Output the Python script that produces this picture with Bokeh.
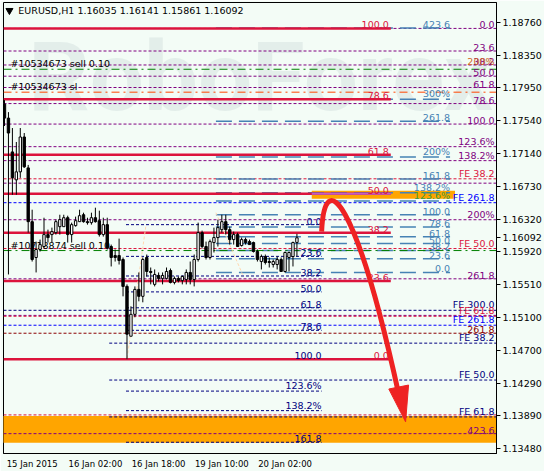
from bokeh.plotting import figure
from bokeh.models import ColumnDataSource, Range1d, FixedTicker, NumeralTickFormatter
from bokeh.core.properties import value
from bokeh.embed import file_html
from bokeh.resources import INLINE

# ---------------- data: EURUSD H1 candles (bar index 0 = 15 Jan 2015) ----------------
opens = [1.17748, 1.17575, 1.17156, 1.16810, 1.16909, 1.17341, 1.16958, 1.16292, 1.15848, 1.15947,
         1.15984, 1.16132, 1.16132, 1.16156, 1.16230, 1.16230, 1.16341, 1.16132, 1.16243, 1.16292,
         1.16378, 1.16292, 1.16280, 1.16341, 1.16304, 1.16132, 1.16255, 1.15984, 1.15872, 1.15872,
         1.15823, 1.15490, 1.14873, 1.15144, 1.15453, 1.15367, 1.15848, 1.15675, 1.15515, 1.15626,
         1.15589, 1.15589, 1.15687, 1.15539, 1.15589, 1.15564, 1.15576, 1.15663, 1.15576, 1.15823,
         1.16156, 1.15984, 1.15848, 1.16033, 1.16095, 1.16193, 1.16292, 1.16193, 1.16070, 1.16132,
         1.15996, 1.16070, 1.16045, 1.16033, 1.15922, 1.15798, 1.15860, 1.15798, 1.15761, 1.15761,
         1.15823, 1.15675, 1.15848, 1.15860, 1.16035]
highs = [1.17798, 1.17649, 1.17452, 1.17279, 1.17452, 1.17390, 1.16995, 1.16440, 1.16045, 1.16070,
         1.16341, 1.16193, 1.16218, 1.16317, 1.16378, 1.16378, 1.16366, 1.16280, 1.16354, 1.16440,
         1.16403, 1.16341, 1.16403, 1.16465, 1.16428, 1.16341, 1.16341, 1.16008, 1.15947, 1.16082,
         1.15848, 1.15515, 1.15243, 1.15490, 1.15663, 1.15848, 1.15885, 1.15724, 1.15700, 1.15663,
         1.15663, 1.15724, 1.15712, 1.15613, 1.15613, 1.15626, 1.15700, 1.15798, 1.15885, 1.16280,
         1.16181, 1.16045, 1.16070, 1.16218, 1.16317, 1.16378, 1.16378, 1.16230, 1.16169, 1.16156,
         1.16095, 1.16095, 1.16070, 1.16045, 1.15947, 1.15885, 1.15885, 1.15848, 1.15823, 1.15860,
         1.15848, 1.15922, 1.15922, 1.16045, 1.16141]
lows = [1.17477, 1.15638, 1.16625, 1.16625, 1.16835, 1.16958, 1.16156, 1.15798, 1.15663, 1.15922,
        1.15971, 1.16033, 1.16033, 1.16132, 1.16132, 1.16230, 1.16033, 1.16033, 1.16230, 1.16292,
        1.16280, 1.16255, 1.16255, 1.16280, 1.16107, 1.16107, 1.15947, 1.15737, 1.15798, 1.15761,
        1.15367, 1.14589, 1.14873, 1.15107, 1.15305, 1.15293, 1.15613, 1.15515, 1.15490, 1.15552,
        1.15515, 1.15576, 1.15527, 1.15515, 1.15539, 1.15515, 1.15515, 1.15515, 1.15490, 1.15798,
        1.15959, 1.15823, 1.15823, 1.15910, 1.15984, 1.16156, 1.16132, 1.16008, 1.16008, 1.15984,
        1.15984, 1.16008, 1.16008, 1.15910, 1.15798, 1.15700, 1.15761, 1.15724, 1.15724, 1.15700,
        1.15675, 1.15663, 1.15675, 1.15737, 1.15861]
closes = [1.17575, 1.17390, 1.16835, 1.16909, 1.17341, 1.16971, 1.16292, 1.15823, 1.15947, 1.16008,
          1.16132, 1.16095, 1.16169, 1.16292, 1.16317, 1.16341, 1.16132, 1.16255, 1.16304, 1.16366,
          1.16292, 1.16280, 1.16341, 1.16292, 1.16132, 1.16255, 1.15971, 1.15848, 1.15848, 1.15811,
          1.15490, 1.14898, 1.15144, 1.15453, 1.15367, 1.15823, 1.15675, 1.15663, 1.15638, 1.15589,
          1.15626, 1.15675, 1.15539, 1.15589, 1.15564, 1.15613, 1.15663, 1.15576, 1.15823, 1.16156,
          1.15984, 1.15848, 1.16045, 1.16095, 1.16218, 1.16292, 1.16193, 1.16070, 1.16132, 1.15984,
          1.16070, 1.16033, 1.16008, 1.15922, 1.15823, 1.15860, 1.15786, 1.15786, 1.15798, 1.15823,
          1.15675, 1.15910, 1.15910, 1.16033, 1.16092]

time_ticks = [0, 16, 32, 48, 64]
time_labels = ["15 Jan 2015", "16 Jan 02:00", "16 Jan 18:00", "19 Jan 10:00", "20 Jan 02:00"]
price_ticks = [1.18760, 1.18350, 1.17950, 1.17540, 1.17140, 1.16730, 1.16320,
               1.15920, 1.15510, 1.15100, 1.14700, 1.14290, 1.13890, 1.13480]
last_price = 1.16092
header = "EURUSD,H1  1.16035 1.16141 1.15861 1.16092"

# Fibonacci retracement (crimson, solid)
red_levels = [1.18686, 1.17809, 1.17121, 1.16638, 1.16154, 1.15556, 1.14589]
red_labels = ["100.0", "78.6", "61.8", "50.0", "38.2", "23.6", "0.0"]
# Fibonacci expansion (steel blue, long dashes)
sb_levels = [1.18692, 1.17808, 1.17535, 1.17093, 1.16820, 1.16651, 1.16547,
             1.16378, 1.16225, 1.16105, 1.16021, 1.15936, 1.15832, 1.15663]
sb_labels = ["423.6", "300%", "261.8", "200%", "161.8", "138.2%", "123.6%",
             "100.0", "78.6", "61.8", "50.0", "38.2", "23.6", "0.0"]
# Fibonacci (purple, full width)
pu_levels = [1.18686, 1.18406, 1.18233, 1.18094, 1.17954, 1.17755, 1.17501,
             1.17221, 1.17048, 1.16769, 1.16316, 1.15584, 1.15131, 1.13666]
pu_labels = ["0.0", "23.6", "38.2", "50.0", "61.8", "78.6", "100.0",
             "123.6%", "138.2%", "", "200%", "261.8", "", "423.6"]
# Fibonacci retracement from the low (navy)
nv_levels = [1.16255, 1.15862, 1.15619, 1.15422, 1.15225, 1.14946, 1.14589,
             1.14193, 1.13951, 1.13559]
nv_labels = ["0.0", "23.6", "38.2", "50.0", "61.8", "78.6", "100.0",
             "123.6%", "138.2%", "161.8"]
# Fibonacci expansion levels labelled at the right edge
fe_levels = [1.16823, 1.16527, 1.15959, 1.15194, 1.15120, 1.15009, 1.14910,
             1.14787, 1.14330, 1.13873]
fe_labels = ["FE 38.2", "FE 261.8", "FE 50.0", "FE 300.0", "FE 61.8", "FE 261.8",
             "261.8", "FE 38.2", "FE 50.0", "FE 61.8"]
fe_colors = ["#DC143C", "#0000FF", "#DC143C", "#000080", "#DC143C", "#0000FF",
             "#8B0000", "#000080", "#000080", "#000080"]
fe_start = [-0.25, -0.25, -0.25, -0.25, -0.25, -0.25, -0.25, 26.5, 26.5, 26.5]
extra_red_level = 1.13898

# orders
order_levels = [1.18180, 1.17896, 1.15934]
order_labels = ["#10534673 sell 0.10", "#10534673 sl", "#10718874 sell 0.10"]
order_colors = ["#008000", "#FF4500", "#008000"]

# zones (rectangles) : x0, x1, y_bottom, y_top
zone_x0 = [77.75, -1.0]
zone_x1 = [114.0, 126.0]
zone_bottom = [1.16576, 1.13553]
zone_top = [1.16675, 1.13886]

# forecast arrow (bar index / price)
arrow_start = (80.25, 1.16169)
arrow_c1 = (81.0, 1.16995)
arrow_c2 = (89.0, 1.16564)
arrow_end = (99.75, 1.14157)
arrow_head_x = [97.25, 102.25, 101.5]
arrow_head_y = [1.14219, 1.14268, 1.13812]

# ---------------- styling ----------------
BG = "#F3FCF6"
FONT = "DejaVu Sans"
FS = "9.5px"
X_LEFT, X_RIGHT = -0.25, 124.5
RED_END = 97.75
SB_START, SB_END = 53.5, 112.75
NV_START, NV_END = 30.75, 80.25
LABEL_SHIFT = 7   # time labels sit to the right of their tick

p = figure(width=544, height=471, x_range=Range1d(X_LEFT, X_RIGHT),
           y_range=Range1d(1.13420, 1.19007), y_axis_location="right",
           output_backend="svg", toolbar_location=None,
           min_border_left=3, min_border_top=2, min_border_bottom=0, min_border_right=0,
           background_fill_color=BG, border_fill_color=BG, outline_line_color="black")
p.grid.visible = False

# watermark
p.text(x=[6], y=[1.18080], text=["RoboForex"], text_font=value("Roboto"),
       text_font_style="bold", text_font_size="96px", text_color="#E3EEEA",
       text_baseline="alphabetic", text_align="left")

# zones
p.quad(left=zone_x0, right=zone_x1, bottom=zone_bottom, top=zone_top,
       fill_color="#FFA500", line_color=None)

# purple full-width dashed
n = len(pu_levels)
p.segment(x0=[X_LEFT] * n, x1=[X_RIGHT] * n, y0=pu_levels, y1=pu_levels,
          line_color="#800080", line_width=1, line_dash="3 2")
# FE lines
p.segment(x0=fe_start, x1=[X_RIGHT] * len(fe_levels), y0=fe_levels, y1=fe_levels,
          line_color=fe_colors, line_width=1, line_dash="3 2")
p.segment(x0=[X_LEFT], x1=[X_RIGHT], y0=[extra_red_level], y1=[extra_red_level],
          line_color="#DC143C", line_width=1, line_dash="3 2")
# navy retracement
n = len(nv_levels)
p.segment(x0=[NV_START] * n, x1=[NV_END] * n, y0=nv_levels, y1=nv_levels,
          line_color="#000080", line_width=1, line_dash="3 2")
# steel blue expansion
n = len(sb_levels)
p.segment(x0=[SB_START] * n, x1=[SB_END] * n, y0=sb_levels, y1=sb_levels,
          line_color="#4682B4", line_width=1.5, line_dash="16 7")
# red retracement
n = len(red_levels)
p.segment(x0=[X_LEFT] * n, x1=[RED_END] * n, y0=red_levels, y1=red_levels,
          line_color="#DC143C", line_width=2.5)
p.segment(x0=[zone_x0[0]], x1=[RED_END], y0=[red_levels[3]], y1=[red_levels[3]],
          line_color="#C060C0", line_width=2)
# order lines
n = len(order_levels)
p.segment(x0=[X_LEFT] * n, x1=[X_RIGHT] * n, y0=order_levels, y1=order_levels,
          line_color=order_colors, line_width=1, line_dash="8 4 2 4")

# pale trend helper lines
p.segment(x0=[35.75, 53.5], y0=[1.16230, 1.16403], x1=[31.0, 60.25], y1=[1.14589, 1.15638],
          line_color="#FFD8B0", line_width=1, line_dash="3 2")

def labels(xs, ys, texts, colors):
    p.text(x=xs, y=ys, text=texts, text_color=colors, text_font=value(FONT),
           text_font_size=FS, text_align="right", text_baseline="bottom")

labels([RED_END - 0.5] * len(red_levels), red_levels, red_labels, ["#DC143C"] * len(red_levels))
sb_cols = ["#4682B4"] * len(sb_levels)
sb_cols[6] = "#3C9A3C"
labels([SB_END] * len(sb_levels), sb_levels, sb_labels, sb_cols)
labels([124.0] * len(pu_levels), pu_levels, pu_labels, ["#800080"] * len(pu_levels))
labels([124.0] * len(fe_levels), fe_levels, fe_labels, fe_colors)
labels([NV_END] * len(nv_levels), nv_levels, nv_labels, ["#000080"] * len(nv_levels))
labels([124.0], [1.18205], ["200%"], ["#D2691E"])
p.text(x=[1.5] * len(order_levels), y=order_levels, text=order_labels, text_color="black",
       text_font=value(FONT), text_font_size=FS, text_align="left", text_baseline="bottom")

# candles
bars = list(range(len(opens)))
src = ColumnDataSource(dict(
    x=bars, o=opens, h=highs, l=lows, c=closes,
    top=[max(a, b) for a, b in zip(opens, closes)],
    bot=[min(a, b) for a, b in zip(opens, closes)],
    fill=["white" if c >= o else "black" for o, c in zip(opens, closes)],
))
p.segment(x0="x", x1="x", y0="l", y1="h", source=src, line_color="black", line_width=1)
p.vbar(x="x", top="top", bottom="bot", width=0.6, source=src,
       fill_color="fill", line_color="black", line_width=1)

# forecast arrow
p.bezier(x0=[arrow_start[0]], y0=[arrow_start[1]], x1=[arrow_end[0]], y1=[arrow_end[1]],
         cx0=[arrow_c1[0]], cy0=[arrow_c1[1]], cx1=[arrow_c2[0]], cy1=[arrow_c2[1]],
         line_color="#EE2222", line_width=5)
p.patch(x=arrow_head_x, y=arrow_head_y, fill_color="#EE2222", line_color="#EE2222")

# header
p.scatter(x=[1.25], y=[1.18908], marker="inverted_triangle", size=7, color="black")
p.text(x=[3.5], y=[1.18908], text=[header], text_font=value(FONT), text_font_size=FS,
       text_color="black", text_baseline="middle", text_align="left")

# axes
p.yaxis.ticker = FixedTicker(ticks=price_ticks + [last_price])
p.yaxis.formatter = NumeralTickFormatter(format="0.00000")
p.yaxis.major_tick_out = 4
p.yaxis.major_tick_in = 0
p.yaxis.minor_tick_line_color = None
p.yaxis.major_label_standoff = 2

label_pos = [t + LABEL_SHIFT for t in time_ticks]
p.xaxis.ticker = FixedTicker(ticks=label_pos)
p.xaxis.major_label_overrides = {t: s for t, s in zip(label_pos, time_labels)}
p.xaxis.major_tick_out = 4
p.xaxis.major_tick_in = 0
p.xaxis.minor_tick_line_color = None
p.xaxis.major_label_standoff = 1
for ax in (p.xaxis, p.yaxis):
    ax.major_label_text_font = FONT
    ax.major_label_text_font_size = FS
    ax.major_label_text_color = "black"
    ax.axis_line_color = "black"
    ax.major_tick_line_color = "black"
p.xaxis.major_tick_line_color = None
p.xaxis.major_label_text_font_size = "8.5px"

open("out.html", "w").write(file_html(p, INLINE))
